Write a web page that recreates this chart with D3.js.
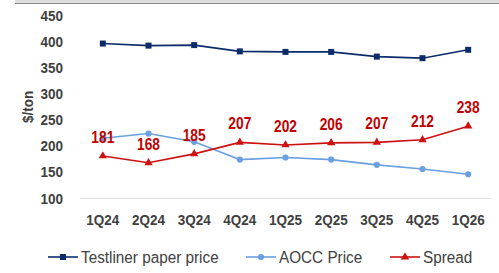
<!DOCTYPE html>
<html>
<head>
<meta charset="utf-8">
<script src="https://cdn.jsdelivr.net/npm/d3@7"></script>
<style>
  body { margin: 0; background: #fff; }
  svg text { font-family: "Liberation Sans Narrow", "Arial Narrow", "Liberation Sans", Arial, sans-serif; }
</style>
</head>
<body>
<svg id="chart" width="499" height="273"></svg>
<script>
const quarters = ["1Q24", "2Q24", "3Q24", "4Q24", "1Q25", "2Q25", "3Q25", "4Q25", "1Q26"];
const testliner = [396, 392, 393, 381, 380, 380, 371, 368, 384];
const aocc = [215, 224, 208, 174, 178, 174, 164, 156, 146];
const spread = [181, 168, 185, 207, 202, 206, 207, 212, 238];
const yTicks = [100, 150, 200, 250, 300, 350, 400, 450];

const svg = d3.select("#chart");

const x = d3.scaleBand().domain(quarters).range([80, 491]);
const y = d3.scaleLinear().domain([100, 450]).range([198.3, 15.3]);
const cx = (d) => x(d) + x.bandwidth() / 2;

// narrow the text a bit, the original uses a condensed face
const squeeze = (sel, px, py, sx) =>
  sel.attr("x", 0).attr("y", 0)
    .attr("transform", (d, i) => `translate(${px(d, i)},${py(d, i)}) scale(${sx},1)`);

// header band cut off at the top
svg.append("rect").attr("x", 15).attr("y", 0).attr("width", 484).attr("height", 3.5).attr("fill", "#dedede");
svg.append("line").attr("x1", 15).attr("x2", 499).attr("y1", 3.5).attr("y2", 3.5)
  .attr("stroke", "#8c8c8c").attr("stroke-width", 1);

// baseline
svg.append("line")
  .attr("x1", 80).attr("x2", 491)
  .attr("y1", y(100)).attr("y2", y(100))
  .attr("stroke", "#d9d9d9").attr("stroke-width", 1);

// y axis labels
svg.append("g").selectAll("text")
  .data(yTicks)
  .join("text")
  .attr("dy", "0.35em")
  .attr("text-anchor", "end")
  .attr("font-size", 15)
  .attr("font-weight", "bold")
  .attr("fill", "#404040")
  .text((d) => d)
  .call(squeeze, () => 63, (d) => y(d), 0.9);

svg.append("text")
  .attr("transform", `translate(33, ${y(275)}) rotate(-90) scale(0.9,1)`)
  .attr("text-anchor", "middle")
  .attr("font-size", 15)
  .attr("font-weight", "bold")
  .attr("fill", "#404040")
  .text("$/ton");

// x axis labels
svg.append("g").selectAll("text")
  .data(quarters)
  .join("text")
  .attr("dy", "0.35em")
  .attr("text-anchor", "middle")
  .attr("font-size", 15)
  .attr("font-weight", "bold")
  .attr("fill", "#404040")
  .text((d) => d)
  .call(squeeze, (d) => cx(d), () => 220, 0.9);

const series = [
  { name: "Testliner paper price", values: testliner, color: "#0b2b6b", marker: "square" },
  { name: "AOCC Price", values: aocc, color: "#6a9fe0", marker: "circle" },
  { name: "Spread", values: spread, color: "#cc1111", marker: "triangle" },
];

const symbolFor = (m) =>
  m === "square" ? d3.symbol(d3.symbolSquare, 36)
  : m === "circle" ? d3.symbol(d3.symbolCircle, 30)
  : d3.symbol(d3.symbolTriangle, 30);

const line = d3.line().x((d, i) => cx(quarters[i])).y((d) => y(d));

series.forEach((s) => {
  svg.append("path")
    .datum(s.values)
    .attr("fill", "none")
    .attr("stroke", s.color)
    .attr("stroke-width", 1.6)
    .attr("d", line);
  svg.append("g").selectAll("path")
    .data(s.values)
    .join("path")
    .attr("transform", (d, i) => `translate(${cx(quarters[i])},${y(d)})`)
    .attr("d", symbolFor(s.marker)())
    .attr("fill", s.color);
});

// spread data labels
svg.append("g").selectAll("text")
  .data(spread)
  .join("text")
  .attr("text-anchor", "middle")
  .attr("font-size", 16)
  .attr("font-weight", "bold")
  .attr("fill", "#c00000")
  .text((d) => d)
  .call(squeeze, (d, i) => cx(quarters[i]), (d) => y(d) - 13, 0.86);

// legend
const legendX = [48, 246, 390];
const legend = svg.append("g").selectAll("g")
  .data(series)
  .join("g")
  .attr("transform", (d, i) => `translate(${legendX[i]}, 257)`);
legend.append("line")
  .attr("x1", 0).attr("x2", 30)
  .attr("stroke", (d) => d.color)
  .attr("stroke-width", 1.6);
legend.append("path")
  .attr("transform", "translate(15,0)")
  .attr("d", (d) => symbolFor(d.marker)())
  .attr("fill", (d) => d.color);
legend.append("text")
  .attr("dy", "0.35em")
  .attr("font-size", 17)
  .attr("fill", "#404040")
  .text((d) => d.name)
  .attr("transform", "translate(33,0) scale(0.9,1)");
</script>
</body>
</html>
